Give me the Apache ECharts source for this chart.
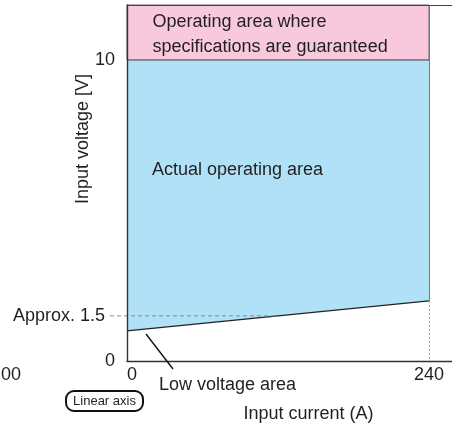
<!DOCTYPE html>
<html>
<head>
<meta charset="utf-8">
<script src="https://cdn.jsdelivr.net/npm/echarts@6/dist/echarts.min.js"></script>
<style>
html,body{margin:0;padding:0;background:#fff;}
#chart{width:452px;height:432px;}
</style>
</head>
<body>
<div id="chart"></div>
<script>
// ---- data ----
const xTickValues = [0, 240];
const yTickValues = [0, 1.5, 10];
const yTickTexts = ['0', 'Approx. 1.5', '10'];
const currentPoints = [0, 240];          // input current (A)
const lowerBoundary = [1, 2];            // lower edge of actual operating area (V)
const upperActual = [10, 10];            // upper edge of actual operating area (V)
const guaranteedRange = [10, 11.83];     // specification guaranteed area (V)
const approxLevel = 1.5;
const approxLine = [-13.5, 120];         // extent of the "Approx. 1.5" guide (A)
const xAxisMax = 258.3;
const yAxisMax = 11.83;

const FONT = '"Liberation Sans", Arial, sans-serif';
const TXT = '#231f20';
const PINK = '#f8c9dd';
const BLUE = '#b0e1f7';

const chart = echarts.init(document.getElementById('chart'), null, {renderer: 'canvas'});

function pairs(xs, ys) { return xs.map((x, i) => [x, ys[i]]); }

const option = {
  animation: false,
  backgroundColor: '#fff',
  textStyle: {fontFamily: FONT, color: TXT},
  grid: {left: 127, right: 0, top: 5, bottom: 71, containLabel: false, outerBoundsMode: 'none'},
  xAxis: [{
    type: 'value', min: 0, max: xAxisMax, interval: 240, z: 10,
    axisLine: {show: true, lineStyle: {color: '#333', width: 1.4}},
    axisTick: {show: false},
    splitLine: {show: false},
    axisLabel: {
      margin: 5, fontSize: 18, color: TXT, fontFamily: FONT, alignMinLabel: 'left',
      formatter: v => xTickValues.some(t => Math.abs(t - v) < 1e-6) ? String(v) : ''
    },
    name: 'Input current (A)', nameLocation: 'middle', nameGap: 44, nameMoveOverlap: false,
    nameTextStyle: {fontSize: 18, color: TXT, fontFamily: FONT, padding: [0, 0, 0, 38]}
  }, {
    type: 'value', position: 'top', min: 0, max: xAxisMax, z: 10,
    axisLine: {show: true, onZero: false, lineStyle: {color: '#444', width: 1}},
    axisTick: {show: false}, axisLabel: {show: false}, splitLine: {show: false}
  }],
  yAxis: {
    type: 'value', min: 0, max: yAxisMax, interval: 0.5, z: 10,
    axisLine: {show: true, lineStyle: {color: '#333', width: 1.4}},
    axisTick: {show: false},
    splitLine: {show: false},
    axisLabel: {
      margin: 12, fontSize: 18, color: TXT, fontFamily: FONT,
      showMaxLabel: false,
      formatter: v => {
        const i = yTickValues.findIndex(t => Math.abs(t - v) < 1e-6);
        if (i < 0) return '';
        return yTickValues[i] === approxLevel ? '{a|' + yTickTexts[i] + '}' : yTickTexts[i];
      },
      rich: {a: {fontSize: 18, color: TXT, fontFamily: FONT, padding: [0, 10, 0, 0]}}
    },
    name: 'Input voltage [V]', nameLocation: 'middle', nameGap: 35, nameMoveOverlap: false,
    nameTextStyle: {fontSize: 18, color: TXT, fontFamily: FONT, padding: [0, 0, 0, 88]}
  },
  series: [
    {
      name: 'actual', type: 'line', symbol: 'none', z: 2,
      data: pairs(currentPoints, upperActual),
      lineStyle: {color: '#555', width: 1},
      areaStyle: {color: BLUE, opacity: 1},
      markArea: {
        silent: true,
        itemStyle: {color: PINK, borderColor: '#666', borderWidth: 1},
        label: {
          show: true, position: 'insideLeft', distance: 26, offset: [0, 2],
          fontSize: 18, lineHeight: 25, color: TXT, fontFamily: FONT,
          formatter: 'Operating area where\nspecifications are guaranteed'
        },
        data: [[{coord: [currentPoints[0], guaranteedRange[0]]}, {coord: [currentPoints[1], guaranteedRange[1]]}]]
      }
    },
    {
      name: 'low', type: 'line', symbol: 'none', z: 3,
      data: pairs(currentPoints, lowerBoundary),
      lineStyle: {color: '#222', width: 1.2},
      areaStyle: {color: '#fff', opacity: 1},
      markLine: {
        silent: true, symbol: 'none', label: {show: false},
        data: [
          [{coord: [currentPoints[1], yAxisMax], lineStyle: {color: '#777', width: 1, type: 'solid'}},
           {coord: [currentPoints[1], lowerBoundary[1]]}],
          [{coord: [currentPoints[1], lowerBoundary[1]], lineStyle: {color: '#999', width: 1, type: [2, 2]}},
           {coord: [currentPoints[1], 0]}]
        ]
      }
    },
    {
      name: 'approx', type: 'custom', z: 4, clip: false, silent: true,
      data: [[approxLine[0], approxLine[1], approxLevel]],
      renderItem: (params, api) => {
        const p0 = api.coord([api.value(0), api.value(2)]);
        const p1 = api.coord([api.value(1), api.value(2)]);
        return {
          type: 'line',
          shape: {x1: p0[0], y1: p0[1], x2: p1[0], y2: p1[1]},
          style: {stroke: '#888', lineWidth: 1, lineDash: [4, 3]}
        };
      }
    }
  ],
  graphic: [
    {type: 'text', left: 152, top: 161, z: 20,
     style: {text: 'Actual operating area', fontSize: 18, fill: TXT, fontFamily: FONT}},
    {type: 'text', left: 159, top: 376, z: 20,
     style: {text: 'Low voltage area', fontSize: 18, fill: TXT, fontFamily: FONT}},
    {type: 'line', z: 20, shape: {x1: 146, y1: 334, x2: 173, y2: 369},
     style: {stroke: '#111', lineWidth: 1.4}},
    {type: 'rect', z: 20, shape: {x: 66, y: 391, width: 77, height: 20, r: 8},
     style: {fill: '#fff', stroke: '#111', lineWidth: 2}},
    {type: 'text', z: 21, x: 104.5, y: 401,
     style: {text: 'Linear axis', fontSize: 13, fill: TXT, fontFamily: FONT, align: 'center', verticalAlign: 'middle'}},
    {type: 'text', z: 20, x: 21, y: 375,
     style: {text: '00', fontSize: 18, fill: TXT, fontFamily: FONT, align: 'right', verticalAlign: 'middle'}}
  ]
};
chart.setOption(option);
</script>
</body>
</html>
